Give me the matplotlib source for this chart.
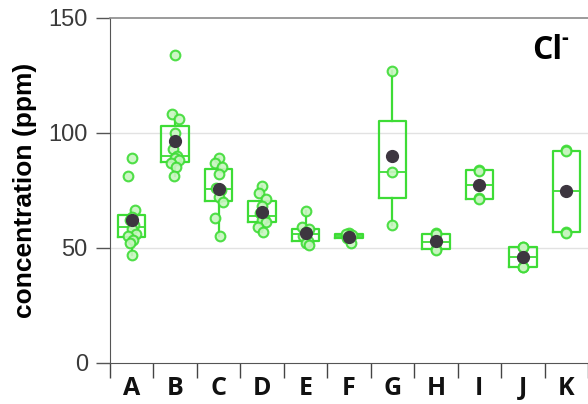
import numpy as np
import matplotlib
matplotlib.use("Agg")
import matplotlib.pyplot as plt

# Chloride concentration (ppm) per site
sites = ["A", "B", "C", "D", "E", "F", "G", "H", "I", "J", "K"]
site_a = [89, 81, 66.5, 63.5, 62, 60, 58, 56, 55, 53.5, 52, 47]
site_b = [134, 108, 106, 100, 93, 90, 89, 88, 87, 85, 81]
site_c = [89, 87, 85, 82, 76, 75, 72, 70, 63, 55]
site_d = [77, 74, 71, 68, 65, 63, 62, 61, 59, 57]
site_e = [66, 59, 58, 57, 55, 53, 52, 51]
site_f = [56.5, 56, 55.5, 55, 54, 52]
site_g = [127, 83, 60]
site_h = [56.5, 56, 52.5, 49.5, 49]
site_i = [84, 83.5, 71.5, 71]
site_j = [50.5, 50.5, 46, 41.5, 41.5]
site_k = [92.5, 92, 57, 56.5]
groups = [site_a, site_b, site_c, site_d, site_e, site_f,
          site_g, site_h, site_i, site_j, site_k]
y_ticks = [0, 50, 100, 150]

GREEN = "#3edc36"
FILL = "#c8f5c0"
MEAN = "#3d3640"

fig = plt.figure(figsize=(5.88, 4.04), dpi=100)
ax = fig.add_axes([110 / 588, 41.5 / 404, 478 / 588, 344.5 / 404])

pos = np.arange(1, len(sites) + 1)

# light horizontal guides
for yv in (50, 100):
    ax.axhline(yv, color="#e2e2e2", lw=1.0, zorder=0)

bp = ax.boxplot(groups, positions=pos, widths=0.63, showfliers=False,
                showcaps=False, whis=1.5, patch_artist=False,
                boxprops=dict(color=GREEN, lw=1.6),
                whiskerprops=dict(color=GREEN, lw=1.6),
                medianprops=dict(color=GREEN, lw=1.3),
                zorder=2)

# individual measurements, spread slightly so overlapping points stay visible
spread = [0.0, -0.08, 0.08, 0.0, -0.05, 0.05, 0.0, 0.09, -0.09, 0.03, -0.03, 0.0]
for p, vals in zip(pos, groups):
    xs = [p + spread[i % len(spread)] * (1 if len(vals) > 5 else 0)
          for i in range(len(vals))]
    ax.plot(xs, vals, "o", ms=7, mfc=FILL, mec=GREEN, mew=1.5,
            alpha=0.9, ls="none", zorder=3)
    ax.plot([p], [np.mean(vals)], "o", ms=8.5, color=MEAN, zorder=4)

ax.set_xlim(0.5, 11.42)
ax.set_ylim(0, 150)

ax.set_yticks(y_ticks)
ax.set_yticklabels([str(t) for t in y_ticks], fontsize=17,
                   color="#3a3a3a", family="Liberation Sans")
ax.tick_params(axis="y", direction="out", length=10, width=1.0,
               color="#555555", pad=6)

ax.set_xticks(pos)
ax.set_xticklabels(sites, fontsize=18, fontweight="bold",
                   family="Open Sans", color="#111111")
ax.set_xticks(np.arange(0.5, 12, 1.0), minor=True)
ax.tick_params(axis="x", which="major", length=0, pad=10)
ax.tick_params(axis="x", which="minor", direction="out", length=10.5,
               width=1.0, color="#444444")

ax.spines["right"].set_visible(False)
ax.spines["top"].set_color("#8a8a8a")
ax.spines["top"].set_linewidth(1.2)
ax.spines["left"].set_color("#555555")
ax.spines["bottom"].set_color("#555555")

ax.set_ylabel("concentration (ppm)", fontsize=19, fontweight="bold",
              family="Liberation Sans", labelpad=8)

ax.text(0.884, 0.905, "Cl", transform=ax.transAxes, fontsize=23,
        fontweight="bold", family="Open Sans", ha="left", va="center")
ax.text(0.944, 0.94, "-", transform=ax.transAxes, fontsize=15,
        fontweight="bold", family="Open Sans", ha="left", va="center")

fig.savefig("out.png", dpi=100)
